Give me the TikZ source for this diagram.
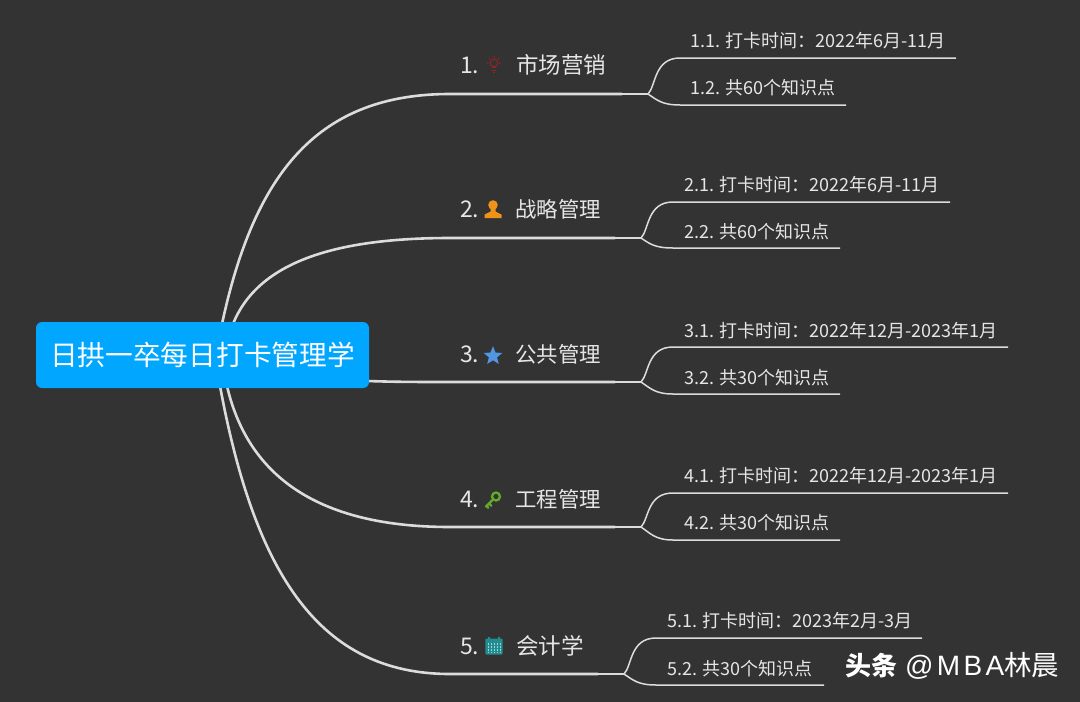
\documentclass[tikz,border=0pt]{standalone}
\usepackage{fontspec}
\setmainfont{Noto Sans CJK SC}
\newfontfamily\wmlatin[LetterSpace=12]{Liberation Sans}
\definecolor{bgc}{HTML}{333333}
\definecolor{linec}{HTML}{DCDCDC}
\definecolor{textc}{HTML}{E6E6E6}
\definecolor{rootc}{HTML}{00A6FF}
\tikzset{
 thickline/.style={draw=linec,line width=2.6pt},
 thinline/.style={draw=linec,line width=1.5pt},
 mainlabel/.style={anchor=base west,inner sep=0pt,text=textc,font=\fontsize{21.4}{22}\selectfont},
 mainlabelbig/.style={anchor=base west,inner sep=0pt,text=textc,font=\fontsize{22.5}{23}\selectfont},
 numlabel/.style={anchor=base west,inner sep=0pt,text=textc,font=\fontsize{23}{23}\selectfont},
 sublabel/.style={anchor=base west,inner sep=0pt,text=textc,font=\fontsize{18}{18}\selectfont},
 rootbox/.style={fill=rootc,rounded corners=6pt,minimum width=333pt,minimum height=66pt,inner sep=0pt,text=white,font=\fontsize{27.7}{28}\selectfont},
}
\newcommand{\subfork}[8]{%
 \coordinate (#1thick) at (#2,#4);
 \coordinate (#1fork) at (#3,#4);
 \coordinate (#1ua) at ({#3+32},#5);
 \coordinate (#1ub) at (#6,#5);
 \coordinate (#1la) at ({#3+32},#7);
 \coordinate (#1lb) at (#8,#7);
 \draw[thinline] (#1thick) -- (#1fork);
 \draw[thinline] (#1fork) .. controls ({#3+8},{#4-8}) and ({#3+6},#5) .. (#1ua) -- (#1ub);
 \draw[thinline] (#1fork) .. controls ({#3+9},{#4+6}) and ({#3+14},#7) .. (#1la) -- (#1lb);
}
\begin{document}
\begin{tikzpicture}[x=1pt,y=-1pt]
\useasboundingbox (0,0) rectangle (1080,702);
\fill[bgc] (0,0) rectangle (1080,702);

\coordinate (ra) at (222,324);
\coordinate (rb) at (233,324);
\coordinate (rc) at (368,381);
\coordinate (rd) at (227,386);
\coordinate (re) at (220,386);
\coordinate (ba) at (450,94);
\coordinate (bb) at (450,238);
\coordinate (bc) at (450,382);
\coordinate (bd) at (450,527);
\coordinate (be) at (450,674);
\coordinate (ca) at (622,94);
\coordinate (cb) at (615,238);
\coordinate (cc) at (615,382);
\coordinate (cd) at (615,527);
\coordinate (ce) at (598,674);

\subfork{a}{622}{648}{94}{58}{956}{105}{846}
\subfork{b}{615}{641}{238}{202}{950}{248}{840}
\subfork{c}{615}{641}{382}{347}{1008}{394}{840}
\subfork{d}{615}{641}{527}{493}{1008}{540}{840}
\subfork{e}{598}{624}{674}{638}{922}{685}{824}

\draw[thickline] (ra) .. controls (255,170) and (320,94) .. (ba) -- (ca);
\draw[thickline] (rb) .. controls (258,262) and (335,238) .. (bb) -- (cb);
\draw[thickline] (rc) .. controls (395,382) and (420,382) .. (bc) -- (cc);
\draw[thickline] (rd) .. controls (250,485) and (330,527) .. (bd) -- (cd);
\draw[thickline] (re) .. controls (255,575) and (320,674) .. (be) -- (ce);

\node[rootbox] (root) at (202.5,355) {\raisebox{-1pt}{日拱一卒每日打卡管理学}};

\node[numlabel] (na) at (460,73) {1.};
\node[mainlabelbig] (ta) at (516,73) {市场营销};
\node[numlabel] (nb) at (460,217) {2.};
\node[mainlabel] (tb) at (515,217) {战略管理};
\node[numlabel] (nc) at (460,362) {3.};
\node[mainlabel] (tc) at (515,362) {公共管理};
\node[numlabel] (nd) at (460,507) {4.};
\node[mainlabel] (td) at (515,507) {工程管理};
\node[numlabel] (ne) at (460,654) {5.};
\node[mainlabelbig] (te) at (516,654) {会计学};

\node[sublabel] (a1) at (690,47.5) {1.1. 打卡时间：2022年6月-11月};
\node[sublabel] (a2) at (690,94.5) {1.2. 共60个知识点};
\node[sublabel] (b1) at (684,191.5) {2.1. 打卡时间：2022年6月-11月};
\node[sublabel] (b2) at (684,238.5) {2.2. 共60个知识点};
\node[sublabel] (c1) at (684,337.5) {3.1. 打卡时间：2022年12月-2023年1月};
\node[sublabel] (c2) at (684,384.5) {3.2. 共30个知识点};
\node[sublabel] (d1) at (684,482.5) {4.1. 打卡时间：2022年12月-2023年1月};
\node[sublabel] (d2) at (684,529.5) {4.2. 共30个知识点};
\node[sublabel] (e1) at (667,627.5) {5.1. 打卡时间：2023年2月-3月};
\node[sublabel] (e2) at (667,675.5) {5.2. 共30个知识点};

\begin{scope}[shift={(494,65)},draw={rgb,255:red,150;green,35;blue,35},line width=1pt]
 \draw (0,-2) circle (3.8);
 \draw (-2,2.5) -- (2,2.5) (-2,5) -- (2,5) (-1.2,7) -- (1.2,7);
 \draw (0,-9) -- (0,-7.2) (-7,-2) -- (-5.2,-2) (7,-2) -- (5.2,-2) (-5,-7) -- (-3.8,-5.8) (5,-7) -- (3.8,-5.8);
\end{scope}
\begin{scope}[shift={(493,209)}]
 \fill[fill={rgb,255:red,238;green,146;blue,26}] (0,-4) circle (4.8);
 \fill[fill={rgb,255:red,238;green,146;blue,26}] (-2.5,0) -- (2.5,0) -- (2.5,2.5) -- (8.5,5.5) -- (8.5,9) -- (-8.5,9) -- (-8.5,5.5) -- (-2.5,2.5) -- cycle;
\end{scope}
\begin{scope}[shift={(493,356)}]
 \fill[fill={rgb,255:red,82;green,150;blue,226}] (-90:9.8) -- (-54:4.3) -- (-18:9.8) -- (18:4.3) -- (54:9.8) -- (90:4.3) -- (126:9.8) -- (162:4.3) -- (198:9.8) -- (234:4.3) -- cycle;
\end{scope}
\begin{scope}[shift={(493,500)},draw={rgb,255:red,98;green,172;blue,40},line width=2.3pt]
 \draw (3,-3.5) circle (4);
 \draw[line cap=round] (0.2,-0.7) -- (-7,6.5) (-4,3.5) -- (-1.8,5.7) (-6.5,6) -- (-4.8,7.8);
\end{scope}
\begin{scope}[shift={(494,646)}]
 \fill[fill={rgb,255:red,36;green,140;blue,145},rounded corners=1pt] (-8.7,-7.5) rectangle (8.7,8.5);
 \fill[fill={rgb,255:red,36;green,140;blue,145}] (-6,-9) rectangle (-4,-6) (4,-9) rectangle (6,-6);
 \foreach \i in {-5.4,-2.4,0.6,3.6,6.6}{\foreach \j in {-2,1,4,6.4}{
  \fill[fill={rgb,255:red,150;green,215;blue,215}] ({\i-1.1},{\j-0.9}) rectangle ({\i+0.5},{\j+0.6});}}
\end{scope}

\node[anchor=base west,inner sep=0pt,text=white,font=\fontsize{26}{26}\selectfont\bfseries] (wa) at (845,675) {头条};
\node[anchor=base west,inner sep=0pt,text=white,font=\fontsize{27.5}{28}\selectfont] (wb) at (905,675.5) {{\wmlatin\fontsize{28}{28}\selectfont @MBA}林晨};
\end{tikzpicture}
\end{document}
